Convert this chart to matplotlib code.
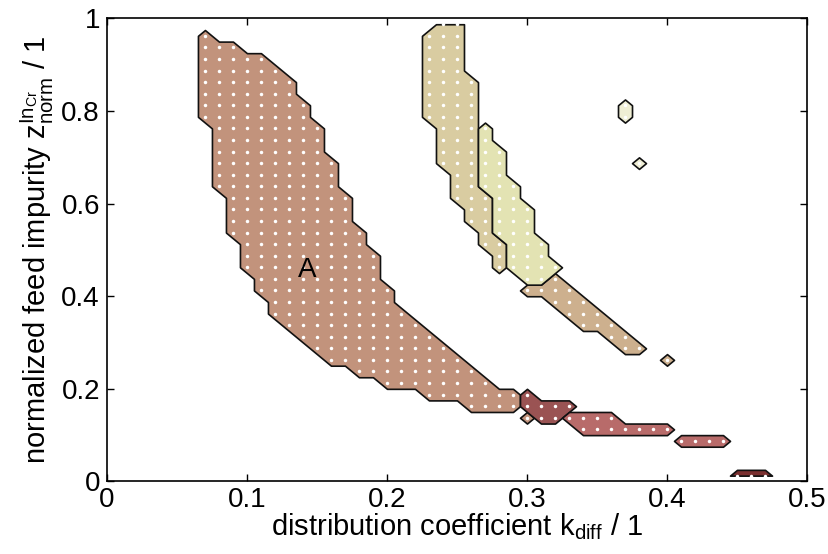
import numpy as np
import matplotlib
matplotlib.use('Agg')
import matplotlib.pyplot as plt

plt.rcParams['font.family'] = ['Liberation Sans', 'DejaVu Sans']
plt.rcParams['mathtext.fontset'] = 'custom'
plt.rcParams['mathtext.rm'] = 'Liberation Sans'

# evaluated grid points
x_grid = np.arange(0, 51) * 0.01
y_grid = 0.0125 + np.arange(0, 40) * 0.025

# feasible points of each region: (row k, first column i, last column i)
rows_a = [(38, 7, 7), (37, 7, 9), (36, 7, 11), (35, 7, 12), (34, 7, 13), (33, 7, 13),
          (32, 7, 14), (31, 7, 14), (30, 8, 15), (29, 8, 15), (28, 8, 15), (27, 8, 16),
          (26, 8, 16), (25, 8, 16), (24, 9, 17), (23, 9, 17), (22, 9, 17), (21, 9, 18),
          (20, 10, 18), (19, 10, 19), (18, 10, 19), (17, 11, 19), (16, 11, 20),
          (15, 12, 20), (14, 12, 21), (13, 13, 22), (12, 14, 23), (11, 15, 24),
          (10, 16, 25), (9, 18, 26), (8, 20, 27), (7, 23, 29), (6, 26, 29)]
rows_a_dot = [(5, 30, 30)]
rows_dark = [(7, 30, 30), (6, 30, 33), (5, 31, 32)]
rows_pink = [(5, 33, 36), (4, 34, 40)]
rows_pink2 = [(3, 41, 44)]
rows_bottom = [(0, 45, 47)]
rows_tan = [(17, 32, 32), (16, 30, 33), (15, 32, 34), (14, 33, 35), (13, 34, 36),
            (12, 36, 37), (11, 37, 38)]
rows_tan_dot = [(10, 40, 40)]
rows_beige = [(39, 24, 25), (38, 23, 25), (37, 23, 25), (36, 23, 25), (35, 23, 25),
              (34, 23, 26), (33, 23, 26), (32, 23, 26), (31, 23, 26), (30, 24, 26),
              (29, 24, 26), (28, 24, 26), (27, 24, 26), (26, 25, 26), (25, 25, 26),
              (24, 25, 27), (23, 26, 27), (22, 26, 27), (21, 27, 27), (20, 27, 28),
              (19, 28, 28), (18, 28, 28)]
rows_yellow = [(30, 27, 27), (29, 27, 27), (28, 27, 28), (27, 27, 28), (26, 27, 28),
               (25, 27, 29), (24, 28, 29), (23, 28, 30), (22, 28, 30), (21, 28, 30),
               (20, 29, 31), (19, 29, 31), (18, 29, 32), (17, 30, 31)]
rows_pale = [(32, 37, 37), (31, 37, 37)]
rows_pale_dot = [(27, 38, 38)]

regions = [
    (rows_a, '#c2937c'), (rows_a_dot, '#c2937c'),
    (rows_dark, '#9a5353'), (rows_pink, '#b86b6a'), (rows_pink2, '#b86b6a'),
    (rows_bottom, '#7a2f2f'),
    (rows_tan, '#cdb08e'), (rows_tan_dot, '#cdb08e'),
    (rows_beige, '#d9cca1'), (rows_yellow, '#e3e3b3'),
    (rows_pale, '#efeed4'), (rows_pale_dot, '#efeed4'),
]

X, Y = np.meshgrid(x_grid, y_grid)

fig = plt.figure(figsize=(8.29, 5.54), dpi=100)
ax = fig.add_axes([0.129, 0.131, 0.8445, 0.8357])

for rows, color in regions:
    mask = np.zeros(X.shape)
    for k, i0, i1 in rows:
        mask[k, i0:i1 + 1] = 1
    cs = ax.contourf(X, Y, mask, levels=[0.5, 1.5], colors=[color])
    cs.set_edgecolor('#111111')
    cs.set_linewidth(1.2)
    ax.plot(X[mask > 0], Y[mask > 0], 'o', color='white', ms=2.5, mew=0)

ax.text(0.143, 0.457, 'A', fontsize=20, ha='center', va='center')

ax.set_xlim(0, 0.5)
ax.set_ylim(0, 1)
ax.set_xticks([0, 0.1, 0.2, 0.3, 0.4, 0.5])
ax.set_xticklabels(['0', '0.1', '0.2', '0.3', '0.4', '0.5'])
ax.set_yticks([0, 0.2, 0.4, 0.6, 0.8, 1])
ax.set_yticklabels(['0', '0.2', '0.4', '0.6', '0.8', '1'])
ax.tick_params(direction='in', top=True, right=True, length=5, labelsize=20, width=1)
ax.tick_params(axis='x', pad=4)
ax.tick_params(axis='y', pad=5)
for s in ax.spines.values():
    s.set_linewidth(1.2)

ax.set_xlabel(r'distribution coefficient $\mathrm{k}_{\mathrm{diff}}$ / 1', fontsize=21,
              labelpad=-1)
ax.set_ylabel(r'normalized feed impurity $\mathrm{z}^{\mathrm{In}_{\mathrm{Cr}}}_{\mathrm{norm}}$ / 1',
              fontsize=21, labelpad=4)

fig.savefig('out.png', dpi=100)
